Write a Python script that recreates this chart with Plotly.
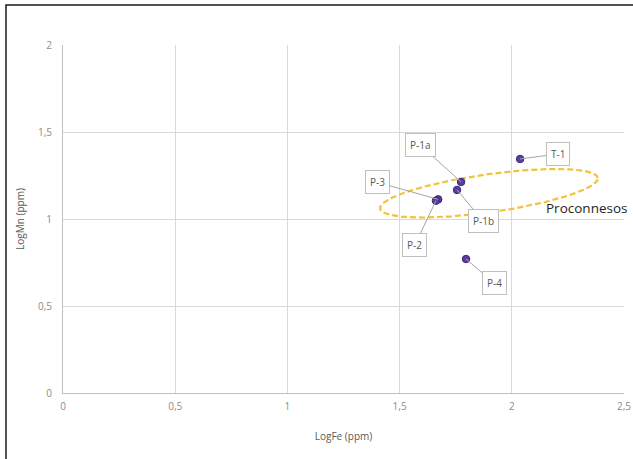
import numpy as np
import plotly.graph_objects as go

# Data
names = ["T-1", "P-1a", "P-1b", "P-3", "P-2", "P-4"]
log_fe = [2.037, 1.774, 1.756, 1.672, 1.662, 1.796]
log_mn = [1.345, 1.213, 1.167, 1.113, 1.105, 0.77]
# label offsets in pixels (ax, ay) relative to point
label_ax = [38, -41, 26, -61, -21, 28]
label_ay = [-5, -37, 31, -17, 44, 24]

x_ticks = [0, 0.5, 1, 1.5, 2, 2.5]
x_tick_text = ["0", "0,5", "1", "1,5", "2", "2,5"]
y_ticks = [0, 0.5, 1, 1.5, 2]
y_tick_text = ["0", "0,5", "1", "1,5", "2"]

# Proconnesos field ellipse parameters
ell_cx, ell_cy = 1.898, 1.148
ell_label = "Proconnesos"

fig = go.Figure()

px_per_x = 561 / 2.5
px_per_y = 348 / 2.0
a_px, b_px, ang = 110, 19, np.deg2rad(8)
t = np.linspace(0, 2 * np.pi, 240)
ex = a_px * np.cos(t) * np.cos(ang) - b_px * np.sin(t) * np.sin(ang)
ey = a_px * np.cos(t) * np.sin(ang) + b_px * np.sin(t) * np.cos(ang)
fig.add_trace(go.Scatter(
    x=ell_cx + ex / px_per_x, y=ell_cy + ey / px_per_y,
    mode="lines", line=dict(color="#F2C23A", width=2.2, dash="6px,3px"),
    hoverinfo="skip", showlegend=False))

fig.add_trace(go.Scatter(
    x=log_fe, y=log_mn, mode="markers",
    marker=dict(size=7.5, color="#5A3E9E", line=dict(color="#3E2878", width=1)),
    showlegend=False))

for n, x, y, ax, ay in zip(names, log_fe, log_mn, label_ax, label_ay):
    fig.add_annotation(x=x, y=y, text=n, showarrow=True, arrowhead=0,
                       arrowcolor="#A6A6A6", arrowwidth=1, ax=ax, ay=ay,
                       font=dict(family="Open Sans", size=10, color="#595959"),
                       bgcolor="white", bordercolor="#BFBFBF", borderwidth=1,
                       borderpad=4)

fig.add_annotation(x=2.143, y=1.065, text=ell_label, showarrow=False,
                   xanchor="left", yanchor="middle",
                   font=dict(family="Open Sans", size=13.5, color="#262626"))

# outer frame
fig.add_shape(type="rect", xref="paper", yref="paper",
              x0=-0.1016, x1=1.05, y0=-0.25, y1=1.115,
              line=dict(color="#1a1a1a", width=1.5), fillcolor="rgba(0,0,0,0)")

fig.update_xaxes(range=[0, 2.5], tickvals=x_ticks, ticktext=x_tick_text,
                 showgrid=True, gridcolor="#D9D9D9", gridwidth=1,
                 zeroline=False, showline=True, linecolor="#BFBFBF",
                 automargin=False, ticklabelstandoff=4,
                 tickfont=dict(family="Open Sans", size=10, color="#8C8C8C"),
                 title=dict(text="LogFe (ppm)", standoff=20,
                            font=dict(family="Open Sans", size=10, color="#595959")))
fig.update_yaxes(range=[0, 2], tickvals=y_ticks, ticktext=y_tick_text,
                 showgrid=True, gridcolor="#D9D9D9", gridwidth=1,
                 zeroline=False, showline=True, linecolor="#BFBFBF",
                 automargin=False, ticklabelstandoff=8,
                 tickfont=dict(family="Open Sans", size=10, color="#8C8C8C"),
                 title=dict(text="LogMn (ppm)", standoff=11,
                            font=dict(family="Open Sans", size=10, color="#595959")))

fig.update_layout(width=633, height=459,
                  margin=dict(l=63, r=9, t=45, b=66),
                  plot_bgcolor="white", paper_bgcolor="white")

fig.write_html("out.html", config={"displayModeBar": False},
               post_script="document.body.style.margin='0';document.body.style.overflow='hidden';")
